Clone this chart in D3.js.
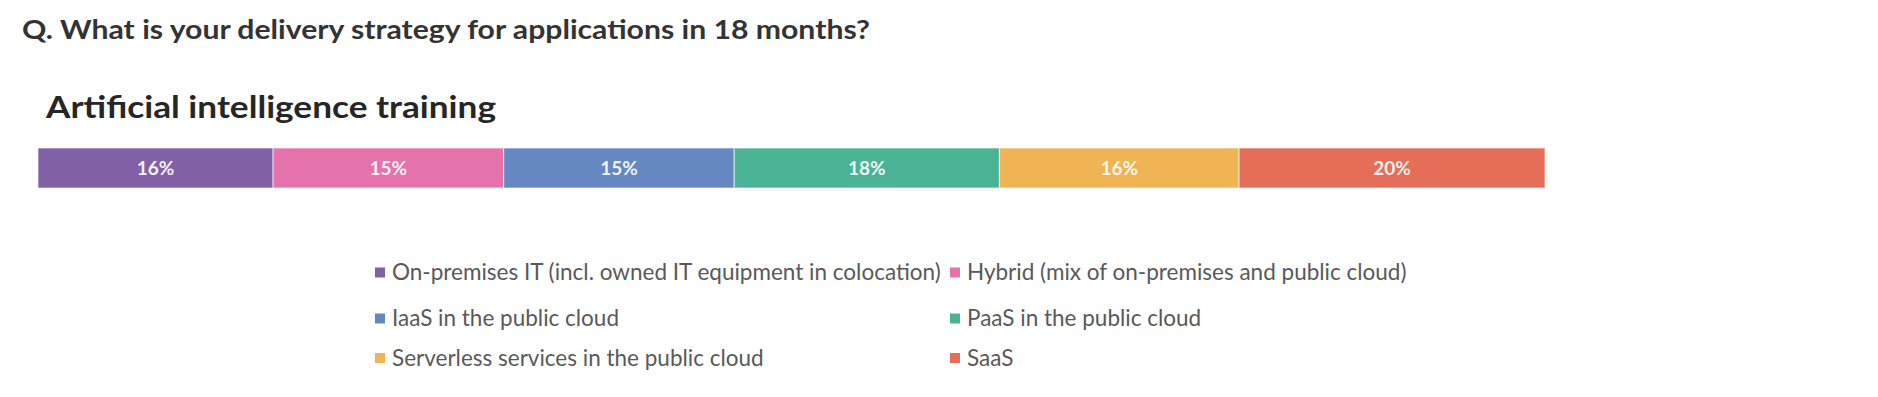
<!DOCTYPE html>
<html><head><meta charset="utf-8">
<script src="https://cdn.jsdelivr.net/npm/d3@7"></script>
<style>body{margin:0;background:#fff}svg{display:block}</style>
</head><body>
<script>
const questionText = "Q. What is your delivery strategy for applications  in 18 months?";
const chartTitle = "Artificial  intelligence training";
const categories = [
  "On-premises IT (incl. owned IT equipment in colocation)",
  "Hybrid (mix of on-premises and public cloud)",
  "IaaS in the public cloud",
  "PaaS in the public cloud",
  "Serverless services in the public cloud",
  "SaaS"
];
const values = [15.6, 15.3, 15.3, 17.6, 15.9, 20.3];
const colors = ["#8160a6", "#e672ab", "#6587c2", "#4ab396", "#f0b455", "#e66d58"];

const W = 1878, H = 397;
const svg = d3.select("body").append("svg").attr("width", W).attr("height", H);
const font = "Lato, 'Open Sans', sans-serif";

svg.append("text").attr("x", 22).attr("y", 39)
  .attr("font-family", font).attr("font-weight", 700).attr("font-size", 26)
  .attr("fill", "#333").attr("textLength", 848).attr("lengthAdjust", "spacingAndGlyphs")
  .text(questionText);

svg.append("text").attr("x", 46).attr("y", 118)
  .attr("font-family", font).attr("font-weight", 700).attr("font-size", 31)
  .attr("fill", "#262626").attr("textLength", 450).attr("lengthAdjust", "spacingAndGlyphs")
  .text(chartTitle);

// stacked bar
const total = d3.sum(values);
const x = d3.scaleLinear().domain([0, total]).range([38, 1545]);
const y = d3.scaleBand().domain(["AI"]).range([148, 188]).padding(0);
let acc = 0;
const segs = values.map((v, i) => { const s = {i, v, x0: acc, x1: acc + v}; acc += v; return s; });

const g = svg.append("g");
g.selectAll("rect").data(segs).join("rect")
  .attr("x", d => x(d.x0)).attr("width", d => x(d.x1) - x(d.x0))
  .attr("y", y("AI")).attr("height", y.bandwidth())
  .attr("fill", d => colors[d.i])
  .attr("stroke", "#fff").attr("stroke-opacity", 0.55).attr("stroke-width", 1.2);

g.selectAll("text").data(segs).join("text")
  .attr("x", d => (x(d.x0) + x(d.x1)) / 2)
  .attr("y", y("AI") + y.bandwidth() / 2)
  .attr("dy", "0.36em").attr("text-anchor", "middle")
  .attr("font-family", font).attr("font-weight", 700).attr("font-size", 19)
  .attr("fill", "#fff").attr("fill-opacity", 0.92)
  .text(d => Math.round(d.v) + "%");

// legend
const colX = [375, 950];
const rowY = [272.5, 318.5, 358];
const lg = svg.append("g").selectAll("g").data(categories).join("g")
  .attr("transform", (d, i) => `translate(${colX[i % 2]},${rowY[Math.floor(i / 2)]})`);
lg.append("rect").attr("x", 0).attr("y", -5).attr("width", 10).attr("height", 10)
  .attr("fill", (d, i) => colors[i]);
lg.append("text").attr("x", 17).attr("y", 0).attr("dy", "0.35em")
  .attr("font-family", font).attr("font-size", 22.5).attr("fill", "#595959")
  .text(d => d);
</script>
</body></html>
